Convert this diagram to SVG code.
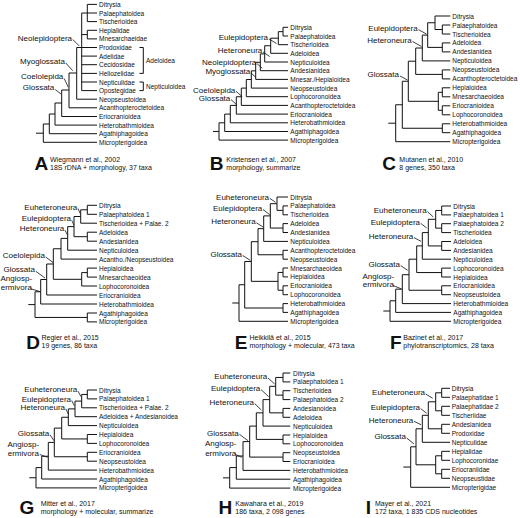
<svg xmlns="http://www.w3.org/2000/svg" width="520" height="518" viewBox="0 0 520 518">
<style>
text{font-family:"Liberation Sans",Arial,Helvetica,sans-serif;fill:#111}
.t{font-size:6.5px;dominant-baseline:central}
.c{font-size:8px;text-anchor:end;dominant-baseline:central}
.m{font-size:8px;text-anchor:middle;dominant-baseline:central}
.ci{font-size:7px;dominant-baseline:central}
.L{font-size:19px;font-weight:bold;text-anchor:end}
.tree{fill:none;stroke:#111;stroke-width:1}
.ld{fill:none;stroke:#111;stroke-width:0.8}
</style>
<rect width="520" height="518" fill="#fff"/>

<!-- Panel A -->
<g id="panel-A">
<g id="A-connectors">
<path class="tree" d="M87.3 4.4V21.6M87.3 4.4H97M87.3 13H97M87.3 21.6H97M87.3 30.3V38.9M87.3 30.3H97M87.3 38.9H97M81.7 13V90.6M81.7 13H87.3M81.7 34.6H87.3M76.7 47.5H97M81.7 56.1H97M81.7 64.7H97M81.7 73.4H97M81.7 82H97M81.7 90.6H97M76.7 47.5V99.2H97M69 73H76.7M69 73V107.8H97M61.7 90H69M61.7 90V116.5H97M55 103H61.7M55 103V125.1H97M49.3 114H55M49.3 114V133.7H97M43.3 124H49.3M43.3 124V142.3H97M36 133.2H43.3"/>
<path class="ld" d="M72.8 39.5L79.3 46M65.8 63L72.7 70.7M64.2 78.5L68.3 87.3M55.2 89.5L61 94"/>
<path class="tree" d="M139.5 47.5H143.3V73.4H139.5M139.5 82H143.3V90.6H139.5"/>
</g>
<g id="A-taxa">
<g id="A-t1"><text class="t" x="99" y="4.4">Ditrysia</text></g>
<g id="A-t2"><text class="t" x="99" y="13">Palaephatoidea</text></g>
<g id="A-t3"><text class="t" x="99" y="21.6">Tischerioidea</text></g>
<g id="A-t4"><text class="t" x="99" y="30.3">Hepialidae</text></g>
<g id="A-t5"><text class="t" x="99" y="38.9">Mnesarchaeidae</text></g>
<g id="A-t6"><text class="t" x="99" y="47.5">Prodoxidae</text></g>
<g id="A-t7"><text class="t" x="99" y="56.1">Adelidae</text></g>
<g id="A-t8"><text class="t" x="99" y="64.7">Cecidosidae</text></g>
<g id="A-t9"><text class="t" x="99" y="73.4">Heliozelidae</text></g>
<g id="A-t10"><text class="t" x="99" y="82">Nepticulidae</text></g>
<g id="A-t11"><text class="t" x="99" y="90.6">Opostegidae</text></g>
<g id="A-t12"><text class="t" x="99" y="99.2">Neopseustoidea</text></g>
<g id="A-t13"><text class="t" x="99" y="107.8">Acanthopteroctetoidea</text></g>
<g id="A-t14"><text class="t" x="99" y="116.5">Eriocranioidea</text></g>
<g id="A-t15"><text class="t" x="99" y="125.1">Heterobathmioidea</text></g>
<g id="A-t16"><text class="t" x="99" y="133.7">Agathiphagoidea</text></g>
<g id="A-t17"><text class="t" x="99" y="142.3">Micropterigoidea</text></g>
<g id="A-b1"><text class="t" x="146" y="60.4">Adeloidea</text></g>
<g id="A-b2"><text class="t" x="146" y="86.3">Nepticuloidea</text></g>
</g>
<g id="A-clades">
<text class="c" x="72" y="38.3">Neolepidoptera</text>
<text class="c" x="65" y="61.7">Myoglossata</text>
<text class="c" x="63.3" y="76.7">Coelolepida</text>
<text class="c" x="54.3" y="87.7">Glossata</text>
</g>
<g id="A-caption">
<text class="L" x="48.3" y="170">A</text>
<text class="ci" x="50" y="159.3">Wiegmann et al., 2002</text>
<text class="ci" x="50" y="167">18S rDNA + morphology, 37 taxa</text>
</g>
</g>

<!-- Panel B -->
<g id="panel-B" transform="translate(173,0)">
<g id="B-connectors">
<path class="tree" d="M110 27.3V36M110 27.3H115M110 36H115M105.3 31.65V44.7H115M105.3 31.65H110M97.7 38.2V53.3H115M97.7 38.2H105.3M91.7 45.75V62H115M91.7 45.75H97.7M87.3 53.9V70.7H115M87.3 53.9H91.7M82.7 62.3V79.4H115M82.7 62.3H87.3M78.3 70.85V88.1H115M78.3 70.85H82.7M73.3 79.5V96.7H115M73.3 79.5H78.3M68.3 88.1V105.4H115M68.3 88.1H73.3M63.3 96.75V114.1H115M63.3 96.75H68.3M57.3 105.4V122.8H115M57.3 105.4H63.3M51.7 114.1V131.5H115M51.7 114.1H57.3M46 122.8V140.1H115M46 122.8H51.7M40 131.45H46"/>
<path class="ld" d="M95.8 38.8L103.5 43.5M90 52L96.7 56.5M84 63.6L89.3 68.3M78 73L82.7 77.3M63 91.3L69.3 96.7M58 99.6L64 105"/>
</g>
<g id="B-taxa">
<g id="B-t1"><text class="t" x="117.3" y="27.3">Ditrysia</text></g>
<g id="B-t2"><text class="t" x="117.3" y="36">Palaephatoidea</text></g>
<g id="B-t3"><text class="t" x="117.3" y="44.7">Tischerioidea</text></g>
<g id="B-t4"><text class="t" x="117.3" y="53.3">Adeloidea</text></g>
<g id="B-t5"><text class="t" x="117.3" y="62">Nepticuloidea</text></g>
<g id="B-t6"><text class="t" x="117.3" y="70.7">Andesianidea</text></g>
<g id="B-t7"><text class="t" x="117.3" y="79.4">Mnesar./Hepialoidea</text></g>
<g id="B-t8"><text class="t" x="117.3" y="88.1">Neopseustoidea</text></g>
<g id="B-t9"><text class="t" x="117.3" y="96.7">Lophocoronoidea</text></g>
<g id="B-t10"><text class="t" x="117.3" y="105.4">Acanthopteroctetoidea</text></g>
<g id="B-t11"><text class="t" x="117.3" y="114.1">Eriocranioidea</text></g>
<g id="B-t12"><text class="t" x="117.3" y="122.8">Heterobathmioidea</text></g>
<g id="B-t13"><text class="t" x="117.3" y="131.5">Agathiphagoidea</text></g>
<g id="B-t14"><text class="t" x="117.3" y="140.1">Micropterigoidea</text></g>
</g>
<g id="B-clades">
<text class="c" x="95" y="37.3">Eulepidoptera</text>
<text class="c" x="89.3" y="50.7">Heteroneura</text>
<text class="c" x="83.3" y="62.3">Neolepidoptera</text>
<text class="c" x="77.3" y="71.7">Myoglossata</text>
<text class="c" x="62.3" y="90">Coelolepida</text>
<text class="c" x="57.3" y="98.3">Glossata</text>
</g>
<g id="B-caption">
<text class="L" x="50.5" y="170">B</text>
<text class="ci" x="53.3" y="159.3">Kristensen et al., 2007</text>
<text class="ci" x="53.3" y="167">morphology, summarize</text>
</g>
</g>

<!-- Panel C -->
<g id="panel-C" transform="translate(345,0)">
<g id="C-connectors">
<path class="tree" d="M97.3 25V34M97.3 25H105.3M97.3 34H105.3M90 16V29.5H97.3M90 16H105.3M97.3 42.9V51.9M97.3 42.9H105.3M97.3 51.9H105.3M82.7 22.75V47.4H97.3M82.7 22.75H90M77.3 35.1V60.9H105.3M77.3 35.1H82.7M97.3 69.9V78.9M97.3 69.9H105.3M97.3 78.9H105.3M70.7 48V74.4H97.3M70.7 48H77.3M97.3 87.8V96.8M97.3 87.8H105.3M97.3 96.8H105.3M97.3 105.8V114.8M97.3 105.8H105.3M97.3 114.8H105.3M93.3 92.3V110.3H97.3M93.3 92.3H97.3M63.3 61.2V101.3H93.3M63.3 61.2H70.7M97.3 123.8V132.7M97.3 123.8H105.3M97.3 132.7H105.3M57.3 81.25V128.25H97.3M57.3 81.25H63.3M50.7 104.75V141.7H105.3M50.7 104.75H57.3M43.3 123.2H50.7"/>
<path class="ld" d="M73.5 29.7L81.5 34M67.5 41.5L76.5 46.5M55 76L62.5 80"/>
</g>
<g id="C-taxa">
<g id="C-t1"><text class="t" x="107.3" y="16">Ditrysia</text></g>
<g id="C-t2"><text class="t" x="107.3" y="25">Palaephatoidea</text></g>
<g id="C-t3"><text class="t" x="107.3" y="34">Tischerioidea</text></g>
<g id="C-t4"><text class="t" x="107.3" y="42.9">Adeloidea</text></g>
<g id="C-t5"><text class="t" x="107.3" y="51.9">Andesianidea</text></g>
<g id="C-t6"><text class="t" x="107.3" y="60.9">Nepticuloidea</text></g>
<g id="C-t7"><text class="t" x="107.3" y="69.9">Neopseustoidea</text></g>
<g id="C-t8"><text class="t" x="107.3" y="78.9">Acanthopteroctetoidea</text></g>
<g id="C-t9"><text class="t" x="107.3" y="87.8">Hepialoidea</text></g>
<g id="C-t10"><text class="t" x="107.3" y="96.8">Mnesarchaeoidea</text></g>
<g id="C-t11"><text class="t" x="107.3" y="105.8">Eriocranioidea</text></g>
<g id="C-t12"><text class="t" x="107.3" y="114.8">Lophocoronoidea</text></g>
<g id="C-t13"><text class="t" x="107.3" y="123.8">Heterobathmioidea</text></g>
<g id="C-t14"><text class="t" x="107.3" y="132.7">Agathiphagoidea</text></g>
<g id="C-t15"><text class="t" x="107.3" y="141.7">Micropterigoidea</text></g>
</g>
<g id="C-clades">
<text class="c" x="72.7" y="28.3">Eulepidoptera</text>
<text class="c" x="66.7" y="40">Heteroneura</text>
<text class="c" x="54" y="74.7">Glossata</text>
</g>
<g id="C-caption">
<text class="L" x="51" y="170">C</text>
<text class="ci" x="54.3" y="159.3">Mutanen et al., 2010</text>
<text class="ci" x="54.3" y="167">8 genes, 350 taxa</text>
</g>
</g>

<!-- Panel D -->
<g id="panel-D" transform="translate(0,172)">
<g id="D-connectors">
<path class="tree" d="M87.3 33.3V42.3M87.3 33.3H97M87.3 42.3H97M80.7 37.8V51.2H97M80.7 37.8H87.3M87.3 60.2V69.2M87.3 60.2H97M87.3 69.2H97M74 44.5V64.7H87.3M74 44.5H80.7M67.7 54.6V78.2H97M67.7 54.6H74M61 66.4V87.1H97M61 66.4H67.7M87.3 96.1V105.1M87.3 96.1H97M87.3 105.1H97M81.7 100.6V114H97M81.7 100.6H87.3M53.3 76.75V107.3H81.7M53.3 76.75H61M46.7 92V123H97M46.7 92H53.3M40.7 107.5V132H97M40.7 107.5H46.7M87.3 141V149.9M87.3 141H97M87.3 149.9H97M35 119.75V145.45H87.3M35 119.75H40.7M28.3 132.6H35"/>
<path class="ld" d="M78 36.5L80.3 41.7M71.7 48.2L74 53.3M65 58.2L67.7 63.3M45.7 85L53 90.5M35.8 99.3L45 106M30.5 116.7L39.8 119.5"/>
</g>
<g id="D-taxa">
<g id="D-t1"><text class="t" x="99" y="33.3">Ditrysia</text></g>
<g id="D-t2"><text class="t" x="99" y="42.3">Palaephatoidea 1</text></g>
<g id="D-t3"><text class="t" x="99" y="51.2">Tischerioidea + Palae. 2</text></g>
<g id="D-t4"><text class="t" x="99" y="60.2">Adeloidea</text></g>
<g id="D-t5"><text class="t" x="99" y="69.2">Andesianidea</text></g>
<g id="D-t6"><text class="t" x="99" y="78.2">Nepticuloidea</text></g>
<g id="D-t7"><text class="t" x="99" y="87.1">Acantho./Neopseustoidea</text></g>
<g id="D-t8"><text class="t" x="99" y="96.1">Hepialoidea</text></g>
<g id="D-t9"><text class="t" x="99" y="105.1">Mnesarchaeoidea</text></g>
<g id="D-t10"><text class="t" x="99" y="114">Lophocoronoidea</text></g>
<g id="D-t11"><text class="t" x="99" y="123">Eriocranioidea</text></g>
<g id="D-t12"><text class="t" x="99" y="132">Heterobathmioidea</text></g>
<g id="D-t13"><text class="t" x="99" y="141">Agathiphagoidea</text></g>
<g id="D-t14"><text class="t" x="99" y="149.9">Micropterigoidea</text></g>
</g>
<g id="D-clades">
<text class="c" x="77.3" y="35">Euheteroneura</text>
<text class="c" x="71" y="46.7">Eulepidoptera</text>
<text class="c" x="64.3" y="56.7">Heteroneura</text>
<text class="c" x="45" y="83.3">Coelolepida</text>
<text class="c" x="35" y="97.7">Glossata</text>
<text class="m" x="16.3" y="106.7">Angiosp-</text>
<text class="m" x="16.3" y="115.7">ermivora</text>
</g>
<g id="D-caption">
<text class="L" x="40" y="176.5">D</text>
<text class="ci" x="41.5" y="165">Regier et al., 2015</text>
<text class="ci" x="41.5" y="173.3">19 genes, 86 taxa</text>
</g>
</g>

<!-- Panel E -->
<g id="panel-E" transform="translate(173,172)">
<g id="E-connectors">
<path class="tree" d="M110 33.9V42.8M110 33.9H115M110 42.8H115M104 25V38.35H110M104 25H115M110 51.6V60.5M110 51.6H115M110 60.5H115M97.3 31.7V56.05H110M97.3 31.7H104M90.7 43.9V69.4H115M90.7 43.9H97.3M110 78.3V87.2M110 78.3H115M110 87.2H115M85 56.65V82.75H110M85 56.65H90.7M110 96V104.9M110 96H115M110 104.9H115M110 113.8V122.7M110 113.8H115M110 122.7H115M105 100.45V118.25H110M105 100.45H110M78.3 69.7V109.35H105M78.3 69.7H85M110 131.6V140.4M110 131.6H115M110 140.4H115M71.7 89.5V136H110M71.7 89.5H78.3M66 112.75V149.3H115M66 112.75H71.7M59.3 131H66"/>
<path class="ld" d="M96.7 26.3L102.5 30.3M90 37.5L96.7 42.7M83.4 50.8L90 55M69.7 83.5L77.3 88.3"/>
</g>
<g id="E-taxa">
<g id="E-t1"><text class="t" x="117.3" y="25">Ditrysia</text></g>
<g id="E-t2"><text class="t" x="117.3" y="33.9">Palaephatoidea</text></g>
<g id="E-t3"><text class="t" x="117.3" y="42.8">Tischerioidea</text></g>
<g id="E-t4"><text class="t" x="117.3" y="51.6">Adeloidea</text></g>
<g id="E-t5"><text class="t" x="117.3" y="60.5">Andesianidea</text></g>
<g id="E-t6"><text class="t" x="117.3" y="69.4">Nepticuloidea</text></g>
<g id="E-t7"><text class="t" x="117.3" y="78.3">Acanthopteroctetoidea</text></g>
<g id="E-t8"><text class="t" x="117.3" y="87.2">Neopseustoidea</text></g>
<g id="E-t9"><text class="t" x="117.3" y="96">Mnesarchaeoidea</text></g>
<g id="E-t10"><text class="t" x="117.3" y="104.9">Hepialoidea</text></g>
<g id="E-t11"><text class="t" x="117.3" y="113.8">Eriocranioidea</text></g>
<g id="E-t12"><text class="t" x="117.3" y="122.7">Lophocoronoidea</text></g>
<g id="E-t13"><text class="t" x="117.3" y="131.6">Heterobathmioidea</text></g>
<g id="E-t14"><text class="t" x="117.3" y="140.4">Agathiphagoidea</text></g>
<g id="E-t15"><text class="t" x="117.3" y="149.3">Micropterigoidea</text></g>
</g>
<g id="E-clades">
<text class="c" x="96" y="25">Euheteroneura</text>
<text class="c" x="89.3" y="36">Eulepidoptera</text>
<text class="c" x="82.7" y="49.3">Heteroneura</text>
<text class="c" x="69" y="82">Glossata</text>
</g>
<g id="E-caption">
<text class="L" x="74.5" y="176.5">E</text>
<text class="ci" x="76.5" y="165">Heikkilä et al., 2015</text>
<text class="ci" x="76.5" y="173.3">morphology + molecular, 473 taxa</text>
</g>
</g>

<!-- Panel F -->
<g id="panel-F" transform="translate(345,172)">
<g id="F-connectors">
<path class="tree" d="M96.7 34V42.9M96.7 34H106M96.7 42.9H106M96.7 51.7V60.6M96.7 51.7H106M96.7 60.6H106M90.7 38.45V56.15H96.7M90.7 38.45H96.7M96.7 69.5V78.4M96.7 69.5H106M96.7 78.4H106M83.3 47.3V73.95H96.7M83.3 47.3H90.7M77.3 60.6V87.2H106M77.3 60.6H83.3M96.7 96.1V105M96.7 96.1H106M96.7 105H106M71.7 73.9V100.55H96.7M71.7 73.9H77.3M96.7 113.8V122.7M96.7 113.8H106M96.7 122.7H106M64 87.2V118.25H96.7M64 87.2H71.7M57.3 102.7V131.6H106M57.3 102.7H64M50.7 117.15V140.4H106M50.7 117.15H57.3M45 128.8V149.3H106M45 128.8H50.7M38.3 139H45"/>
<path class="ld" d="M82.4 39.6L88.3 45M75.7 51.3L81.7 56M69 65.6L76 69.3M55.7 93.6L62.7 98.3M48 113.5L56 116.7"/>
</g>
<g id="F-taxa">
<g id="F-t1"><text class="t" x="108.3" y="34">Ditrysia</text></g>
<g id="F-t2"><text class="t" x="108.3" y="42.9">Palaephatoidea 1</text></g>
<g id="F-t3"><text class="t" x="108.3" y="51.7">Palaephatoidea 2</text></g>
<g id="F-t4"><text class="t" x="108.3" y="60.6">Tischerioidea</text></g>
<g id="F-t5"><text class="t" x="108.3" y="69.5">Adeloidea</text></g>
<g id="F-t6"><text class="t" x="108.3" y="78.4">Andesianidea</text></g>
<g id="F-t7"><text class="t" x="108.3" y="87.2">Nepticuloidea</text></g>
<g id="F-t8"><text class="t" x="108.3" y="96.1">Lophocoronoidea</text></g>
<g id="F-t9"><text class="t" x="108.3" y="105">Hepialoidea</text></g>
<g id="F-t10"><text class="t" x="108.3" y="113.8">Eriocranioidea</text></g>
<g id="F-t11"><text class="t" x="108.3" y="122.7">Neopseustoidea</text></g>
<g id="F-t12"><text class="t" x="108.3" y="131.6">Heterobathmioidea</text></g>
<g id="F-t13"><text class="t" x="108.3" y="140.4">Agathiphagoidea</text></g>
<g id="F-t14"><text class="t" x="108.3" y="149.3">Micropterigoidea</text></g>
</g>
<g id="F-clades">
<text class="c" x="81.7" y="38.3">Euheteroneura</text>
<text class="c" x="75" y="50">Eulepidoptera</text>
<text class="c" x="68.3" y="64.3">Heteroneura</text>
<text class="c" x="55" y="92.3">Glossata</text>
<text class="m" x="33.3" y="104.3">Angiosp-</text>
<text class="m" x="33.3" y="112.7">ermivora</text>
</g>
<g id="F-caption">
<text class="L" x="56.5" y="176.5">F</text>
<text class="ci" x="58.3" y="165">Bazinet et al., 2017</text>
<text class="ci" x="58.3" y="173.3">phylotranscriptomics, 28 taxa</text>
</g>
</g>

<!-- Panel G -->
<g id="panel-G" transform="translate(0,344)">
<g id="G-connectors">
<path class="tree" d="M87.3 46V54.9M87.3 46H97M87.3 54.9H97M81.7 50.45V63.8H97M81.7 50.45H87.3M75 57.1V72.7H97M75 57.1H81.7M68.3 64.9V81.6H97M68.3 64.9H75M87.3 90.5V99.4M87.3 90.5H97M87.3 99.4H97M61.7 73.25V94.95H87.3M61.7 73.25H68.3M87.3 108.3V117.2M87.3 108.3H97M87.3 117.2H97M54.3 84.1V112.75H87.3M54.3 84.1H61.7M48.3 98.4V126.1H97M48.3 98.4H54.3M41.7 112.25V135H97M41.7 112.25H48.3M36 123.6V143.9H97M36 123.6H41.7M29.3 133.75H36"/>
<path class="ld" d="M78 47.2L81 52.7M71.7 56.5L74.3 61.7M65.7 64.8L68.3 70M50 90.8L54 96.7M39.8 110.5L47.7 113.3"/>
</g>
<g id="G-taxa">
<g id="G-t1"><text class="t" x="99" y="46">Ditrysia</text></g>
<g id="G-t2"><text class="t" x="99" y="54.9">Palaephatoidea 1</text></g>
<g id="G-t3"><text class="t" x="99" y="63.8">Tischerioidea + Palae. 2</text></g>
<g id="G-t4"><text class="t" x="99" y="72.7">Adeloidea + Andesianoidea</text></g>
<g id="G-t5"><text class="t" x="99" y="81.6">Nepticuloidea</text></g>
<g id="G-t6"><text class="t" x="99" y="90.5">Hepialoidea</text></g>
<g id="G-t7"><text class="t" x="99" y="99.4">Lophocoronoidea</text></g>
<g id="G-t8"><text class="t" x="99" y="108.3">Eriocranioidea</text></g>
<g id="G-t9"><text class="t" x="99" y="117.2">Neopseustoidea</text></g>
<g id="G-t10"><text class="t" x="99" y="126.1">Heterobathmioidea</text></g>
<g id="G-t11"><text class="t" x="99" y="135">Agathiphagoidea</text></g>
<g id="G-t12"><text class="t" x="99" y="143.9">Micropterigoidea</text></g>
</g>
<g id="G-clades">
<text class="c" x="77.3" y="45.7">Euheteroneura</text>
<text class="c" x="71" y="55">Eulepidoptera</text>
<text class="c" x="65" y="63.3">Heteroneura</text>
<text class="c" x="49.3" y="89.3">Glossata</text>
<text class="m" x="23.3" y="100.7">Angiosp-</text>
<text class="m" x="23.3" y="109">ermivora</text>
</g>
<g id="G-caption">
<text class="L" x="34.3" y="170">G</text>
<text class="ci" x="40.7" y="159.3">Mitter et al., 2017</text>
<text class="ci" x="40.7" y="167">morphology + molecular, summarize</text>
</g>
</g>

<!-- Panel H -->
<g id="panel-H" transform="translate(173,344)">
<g id="H-connectors">
<path class="tree" d="M110 29V37.9M110 29H117.3M110 37.9H117.3M110 46.7V55.6M110 46.7H117.3M110 55.6H117.3M102.7 33.45V51.15H110M102.7 33.45H110M110 64.4V73.3M110 64.4H117.3M110 73.3H117.3M96.7 42.3V68.85H110M96.7 42.3H102.7M90 55.6V82.1H117.3M90 55.6H96.7M110 91V99.8M110 91H117.3M110 99.8H117.3M83.3 68.85V95.4H110M83.3 68.85H90M110 108.7V117.5M110 108.7H117.3M110 117.5H117.3M76.7 82.1V113.1H110M76.7 82.1H83.3M70 97.6V126.4H117.3M70 97.6H76.7M63.3 112V135.2H117.3M63.3 112H70M56.7 123.6V144.1H117.3M56.7 123.6H63.3M50 133.85H56.7"/>
<path class="ld" d="M95 34L101.7 40M88 45.6L95.7 52.7M81.7 59.6L88.3 66M66.4 90.3L75 96.7M62 110.3L69 113.3"/>
</g>
<g id="H-taxa">
<g id="H-t1"><text class="t" x="120" y="29">Ditrysia</text></g>
<g id="H-t2"><text class="t" x="120" y="37.9">Palaephatoidea 1</text></g>
<g id="H-t3"><text class="t" x="120" y="46.7">Tischerioidea</text></g>
<g id="H-t4"><text class="t" x="120" y="55.6">Palaephatoidea 2</text></g>
<g id="H-t5"><text class="t" x="120" y="64.4">Andesianoidea</text></g>
<g id="H-t6"><text class="t" x="120" y="73.3">Adeloidea</text></g>
<g id="H-t7"><text class="t" x="120" y="82.1">Nepticuloidea</text></g>
<g id="H-t8"><text class="t" x="120" y="91">Hepialoidea</text></g>
<g id="H-t9"><text class="t" x="120" y="99.8">Lophocoronoidea</text></g>
<g id="H-t10"><text class="t" x="120" y="108.7">Neopseustoidea</text></g>
<g id="H-t11"><text class="t" x="120" y="117.5">Eriocranioidea</text></g>
<g id="H-t12"><text class="t" x="120" y="126.4">Heterobathmioidea</text></g>
<g id="H-t13"><text class="t" x="120" y="135.2">Agathiphagoidea</text></g>
<g id="H-t14"><text class="t" x="120" y="144.1">Micropterigoidea</text></g>
</g>
<g id="H-clades">
<text class="c" x="94.3" y="32.7">Euheteroneura</text>
<text class="c" x="87.3" y="44.3">Eulepidoptera</text>
<text class="c" x="81" y="58.3">Heteroneura</text>
<text class="c" x="65.7" y="89">Glossata</text>
<text class="m" x="47.7" y="99.7">Angiosp-</text>
<text class="m" x="47.7" y="109">ermivora</text>
</g>
<g id="H-caption">
<text class="L" x="59.3" y="170">H</text>
<text class="ci" x="62.3" y="159.3">Kawahara et al., 2019</text>
<text class="ci" x="62.3" y="167">186 taxa, 2 098 genes</text>
</g>
</g>

<!-- Panel I -->
<g id="panel-I" transform="translate(345,344)">
<g id="I-connectors">
<path class="tree" d="M96.7 44.3V53.3M96.7 44.3H105M96.7 53.3H105M96.7 62.3V71.3M96.7 62.3H105M96.7 71.3H105M90.7 48.8V66.8H96.7M90.7 48.8H96.7M96.7 80.3V89.3M96.7 80.3H105M96.7 89.3H105M83.3 57.8V84.8H96.7M83.3 57.8H90.7M77.3 71.3V98.3H105M77.3 71.3H83.3M96.7 107.3V116.3M96.7 107.3H105M96.7 116.3H105M96.7 125.3V134.3M96.7 125.3H105M96.7 134.3H105M90.7 111.8V129.8H96.7M90.7 111.8H96.7M71 84.8V120.8H90.7M71 84.8H77.3M65.7 102.8V143.3H105M65.7 102.8H71M58.3 123.05H65.7"/>
<path class="ld" d="M80.7 50L87.7 54.3M75.7 64.6L81.7 69.3M69 77.3L76 80.7M61.7 94L69 100"/>
</g>
<g id="I-taxa">
<g id="I-t1"><text class="t" x="106.7" y="44.3">Ditrysia</text></g>
<g id="I-t2"><text class="t" x="106.7" y="53.3">Palaephatidae 1</text></g>
<g id="I-t3"><text class="t" x="106.7" y="62.3">Palaephatidae 2</text></g>
<g id="I-t4"><text class="t" x="106.7" y="71.3">Tischeriidae</text></g>
<g id="I-t5"><text class="t" x="106.7" y="80.3">Andesianidea</text></g>
<g id="I-t6"><text class="t" x="106.7" y="89.3">Prodoxidae</text></g>
<g id="I-t7"><text class="t" x="106.7" y="98.3">Nepticulidae</text></g>
<g id="I-t8"><text class="t" x="106.7" y="107.3">Hepialidae</text></g>
<g id="I-t9"><text class="t" x="106.7" y="116.3">Lophocoronidae</text></g>
<g id="I-t10"><text class="t" x="106.7" y="125.3">Eriocraniidae</text></g>
<g id="I-t11"><text class="t" x="106.7" y="134.3">Neopseustidae</text></g>
<g id="I-t12"><text class="t" x="106.7" y="143.3">Micropterigidae</text></g>
</g>
<g id="I-clades">
<text class="c" x="80" y="48.7">Euheteroneura</text>
<text class="c" x="75" y="63.3">Eulepidoptera</text>
<text class="c" x="68.3" y="76">Heteroneura</text>
<text class="c" x="61" y="92.7">Glossata</text>
</g>
<g id="I-caption">
<text class="L" x="26" y="170">I</text>
<text class="ci" x="30" y="159.3">Mayer et al., 2021</text>
<text class="ci" x="30" y="167">172 taxa, 1 835 CDS nucleotides</text>
</g>
</g>
</svg>
